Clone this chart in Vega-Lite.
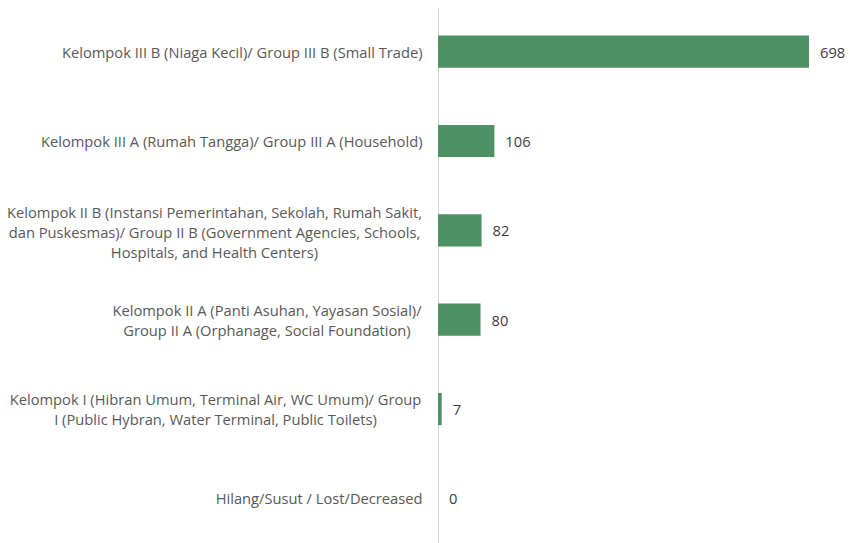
{
  "$schema": "https://vega.github.io/schema/vega-lite/v6.json",
  "autosize": "none",
  "width": 412,
  "height": 536,
  "padding": {"left": 438, "top": 7, "right": 0, "bottom": 0},
  "background": "white",
  "config": {"view": {"stroke": null}, "font": "Open Sans"},
  "data": {
    "values": [
      {"label": "Kelompok III B (Niaga Kecil)/ Group III B (Small Trade)", "value": 698},
      {"label": "Kelompok III A (Rumah Tangga)/ Group III A (Household)", "value": 106},
      {"label": "Kelompok II B (Instansi Pemerintahan, Sekolah, Rumah Sakit, dan Puskesmas)/ Group II B (Government Agencies, Schools, Hospitals, and Health Centers)", "value": 82},
      {"label": "Kelompok II A (Panti Asuhan, Yayasan Sosial)/ Group II A (Orphanage, Social Foundation)", "value": 80},
      {"label": "Kelompok I (Hibran Umum, Terminal Air, WC Umum)/ Group I (Public Hybran, Water Terminal, Public Toilets)", "value": 7},
      {"label": "Hilang/Susut / Lost/Decreased", "value": 0}
    ]
  },
  "encoding": {
    "y": {
      "field": "label",
      "type": "nominal",
      "sort": null,
      "scale": {"paddingInner": 0.64, "paddingOuter": 0.32},
      "axis": {
        "title": null,
        "ticks": false,
        "domainColor": "#d9d9d9",
        "domainWidth": 1,
        "labelLimit": 0,
        "labelFontSize": 14.7,
        "labelColor": "#595959",
        "labelLineHeight": 20,
        "labelAlign": {"expr": "indexof(datum.label,'Instansi')>=0 || indexof(datum.label,'Panti')>=0 || indexof(datum.label,'Hibran')>=0 ? 'center' : 'right'"},
        "labelPadding": {"expr": "indexof(datum.label,'Instansi')>=0 ? 224 : indexof(datum.label,'Panti')>=0 ? 171.5 : indexof(datum.label,'Hibran')>=0 ? 223 : 16"},
        "labelOffset": {"expr": "indexof(datum.label,'Instansi')>=0 ? -16 : indexof(datum.label,'Panti')>=0 || indexof(datum.label,'Hibran')>=0 ? -8 : 2"},
        "labelExpr": "indexof(datum.label,'II B (Instansi')>0 ? ['Kelompok II B (Instansi Pemerintahan, Sekolah, Rumah Sakit,','dan Puskesmas)/ Group II B (Government Agencies, Schools,','Hospitals, and Health Centers)'] : indexof(datum.label,'II A (Panti')>0 ? ['Kelompok II A (Panti Asuhan, Yayasan Sosial)/','Group II A (Orphanage, Social Foundation)'] : indexof(datum.label,'Kelompok I (')==0 ? ['Kelompok I (Hibran Umum, Terminal Air, WC Umum)/ Group','I (Public Hybran, Water Terminal, Public Toilets)'] : datum.label"
      }
    },
    "x": {
      "field": "value",
      "type": "quantitative",
      "scale": {"domain": [0, 775], "nice": false, "zero": true},
      "axis": null
    }
  },
  "layer": [
    {"mark": {"type": "bar", "color": "#4E9165"}},
    {
      "mark": {"type": "text", "align": "left", "baseline": "middle", "dx": 11, "dy": 2, "fontSize": 14.7, "color": "#404040"},
      "encoding": {"text": {"field": "value", "type": "quantitative"}}
    }
  ]
}
